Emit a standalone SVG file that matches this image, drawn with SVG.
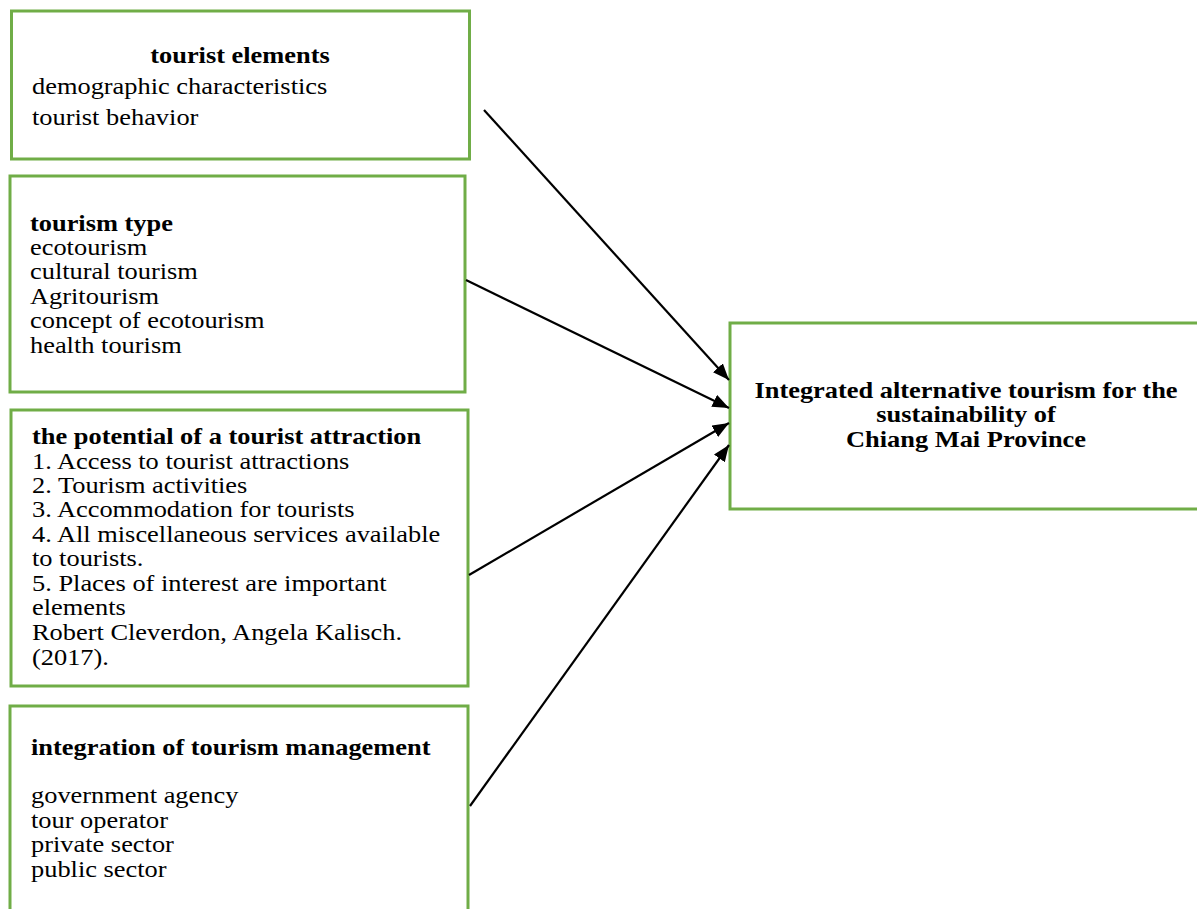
<svg xmlns="http://www.w3.org/2000/svg" width="1197" height="909" viewBox="0 0 1197 909">
<style>
.box{fill:#fff;stroke:#70AD47;stroke-width:3}
.t{font-family:"Liberation Serif","Times New Roman",serif;font-size:24px;fill:#000}
.b{font-weight:bold}
.c{text-anchor:middle}
.conn{stroke:#000;stroke-width:2.2;fill:none;marker-end:url(#ah)}
</style>
<defs>
<marker id="ah" viewBox="0 0 10 8" markerWidth="7.5" markerHeight="6" refX="10" refY="4" orient="auto">
<path d="M0,0 L10,4 L0,8 z" fill="#000"/>
</marker>
</defs>
<rect width="1197" height="909" fill="#fff"/>
<g id="node-tourist-elements">
<rect class="box" x="11.5" y="11" width="458" height="148"/>
<text class="t" transform="translate(240,0) scale(1.1,1)"><tspan class="b c" x="0" y="63">tourist elements</tspan></text>
<text class="t" transform="translate(32,0) scale(1.1,1)"><tspan x="0" y="94">demographic characteristics</tspan><tspan x="0" y="125">tourist behavior</tspan></text>
</g>
<g id="node-tourism-type">
<rect class="box" x="10" y="176" width="455" height="216"/>
<text class="t" transform="translate(30,0) scale(1.1,1)"><tspan class="b" x="0" y="231">tourism type</tspan><tspan x="0" y="255">ecotourism</tspan><tspan x="0" y="279.5">cultural tourism</tspan><tspan x="0" y="304">Agritourism</tspan><tspan x="0" y="328.5">concept of ecotourism</tspan><tspan x="0" y="353">health tourism</tspan></text>
</g>
<g id="node-potential">
<rect class="box" x="11" y="410" width="457" height="276"/>
<text class="t" transform="translate(32,0) scale(1.1,1)"><tspan class="b" x="0" y="444">the potential of a tourist attraction</tspan><tspan x="0" y="469">1. Access to tourist attractions</tspan><tspan x="0" y="493">2. Tourism activities</tspan><tspan x="0" y="517.5">3. Accommodation for tourists</tspan><tspan x="0" y="542">4. All miscellaneous services available</tspan><tspan x="0" y="566.5">to tourists.</tspan><tspan x="0" y="591">5. Places of interest are important</tspan><tspan x="0" y="615.5">elements</tspan><tspan x="0" y="640">Robert Cleverdon, Angela Kalisch.</tspan><tspan x="0" y="664.5">(2017).</tspan></text>
</g>
<g id="node-integration">
<rect class="box" x="10" y="706" width="458" height="220"/>
<text class="t" transform="translate(31,0) scale(1.1,1)"><tspan class="b" x="0" y="755">integration of tourism management</tspan><tspan x="0" y="803.5">government agency</tspan><tspan x="0" y="828">tour operator</tspan><tspan x="0" y="852.5">private sector</tspan><tspan x="0" y="877">public sector</tspan></text>
</g>
<g id="node-target">
<rect class="box" x="730" y="323" width="480" height="186"/>
<text class="t b c" transform="translate(966,0) scale(1.1,1)"><tspan x="0" y="398">Integrated alternative tourism for the</tspan><tspan x="0" y="422.5">sustainability of</tspan><tspan x="0" y="447">Chiang Mai Province</tspan></text>
</g>
<g id="connectors">
<line class="conn" x1="484" y1="110" x2="729" y2="380"/>
<line class="conn" x1="466" y1="280" x2="729" y2="408"/>
<line class="conn" x1="469" y1="575" x2="729" y2="423"/>
<line class="conn" x1="470" y1="806" x2="729" y2="445"/>
</g>
</svg>
